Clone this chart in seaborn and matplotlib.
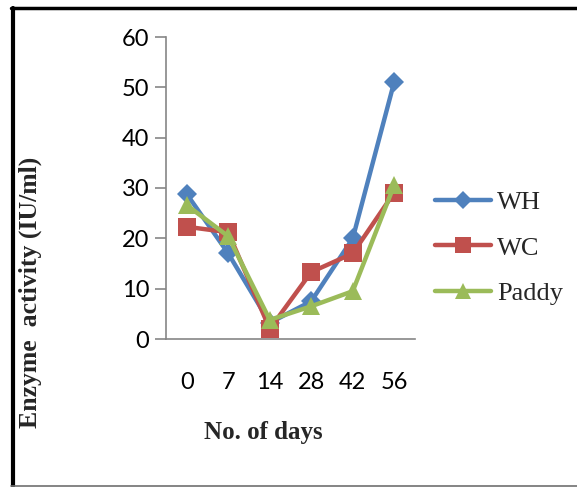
import matplotlib
matplotlib.use("Agg")
import matplotlib.pyplot as plt
import seaborn as sns
import pandas as pd
from matplotlib.lines import Line2D

days = ["0", "7", "14", "28", "42", "56"]
wh = [28.8, 17.0, 3.2, 7.5, 20.0, 51.1]
wc = [22.3, 21.2, 2.0, 13.3, 17.0, 29.1]
paddy = [26.6, 20.4, 3.8, 6.5, 9.5, 30.6]
series_names = ["WH", "WC", "Paddy"]
y_ticks = [0, 10, 20, 30, 40, 50, 60]

sns.set_theme(style="white")
plt.rcParams['font.family'] = ['Lato', 'DejaVu Sans']

colors = {"WH": "#4F81BD", "WC": "#C0504D", "Paddy": "#9BBB59"}
markers = {"WH": "D", "WC": "s", "Paddy": "^"}
msizes = {"WH": 10.5, "WC": 13, "Paddy": 13.5}

rows = []
for name, vals in zip(series_names, [wh, wc, paddy]):
    for i, v in enumerate(vals):
        rows.append({"pos": i, "day": days[i], "value": v, "series": name})
df = pd.DataFrame(rows)

fig = plt.figure(figsize=(5.77, 4.87), dpi=100)
ax = fig.add_axes([166/577, 1-339/487, (415-166)/577, (339-37)/487])

for name in series_names:
    sub = df[df["series"] == name]
    sns.lineplot(data=sub, x="pos", y="value", ax=ax, color=colors[name],
                 marker=markers[name], markersize=msizes[name], linewidth=3.2,
                 markeredgewidth=0, label=name, legend=False)

ax.set_xlim(-0.5, 5.5)
ax.set_ylim(0, 60)
ax.set_yticks(y_ticks)
ax.set_yticklabels([str(t) for t in y_ticks], fontsize=17, color="black")
ax.set_xticks(range(len(days)))
ax.set_xticklabels(days, fontsize=17, color="black")
ax.set_xticks([i - 0.5 for i in range(len(days) + 1)], minor=True)
ax.tick_params(axis="x", which="major", length=0, pad=24)
ax.tick_params(axis="x", which="minor", length=8, width=1.2, color="#868686", direction="out")
ax.tick_params(axis="y", which="major", length=8, width=1.2, color="#868686", direction="out", pad=4, left=True)
for s in ["top", "right"]:
    ax.spines[s].set_visible(False)
for s in ["left", "bottom"]:
    ax.spines[s].set_color("#868686")
    ax.spines[s].set_linewidth(1.2)
ax.set_xlabel("")
ax.set_ylabel("")
ax.grid(False)

fig.text(30/577, 1-292/487, "Enzyme  activity (IU/ml)", rotation=90, ha="center", va="center",
         fontsize=18.5, fontweight="bold", family="Liberation Serif")
fig.text(263/577, 1-433/487, "No. of days", ha="center", va="center",
         fontsize=18, fontweight="bold", family="Liberation Serif")

handles = [Line2D([0], [0], color=colors[n], marker=markers[n], markersize=msizes[n]*0.85,
                  linewidth=3.2, markeredgewidth=0) for n in series_names]
leg = fig.legend(handles, series_names, loc="center left", bbox_to_anchor=(414/577, 1-248/487),
                 frameon=False, prop={"family": "Liberation Serif", "size": 19},
                 handlelength=2.1, labelspacing=0.83, handletextpad=0.25, borderpad=0.3)

# outer frame
fig.add_artist(Line2D([12.5/577, 12.5/577], [1-7.5/487, 1-486/487], transform=fig.transFigure, color="black", linewidth=3))
fig.add_artist(Line2D([11/577, 1], [1-7.5/487, 1-7.5/487], transform=fig.transFigure, color="black", linewidth=2.5))
fig.add_artist(Line2D([11/577, 1], [1-486/487, 1-486/487], transform=fig.transFigure, color="#707070", linewidth=1.2))

fig.savefig("out.png", dpi=100)
